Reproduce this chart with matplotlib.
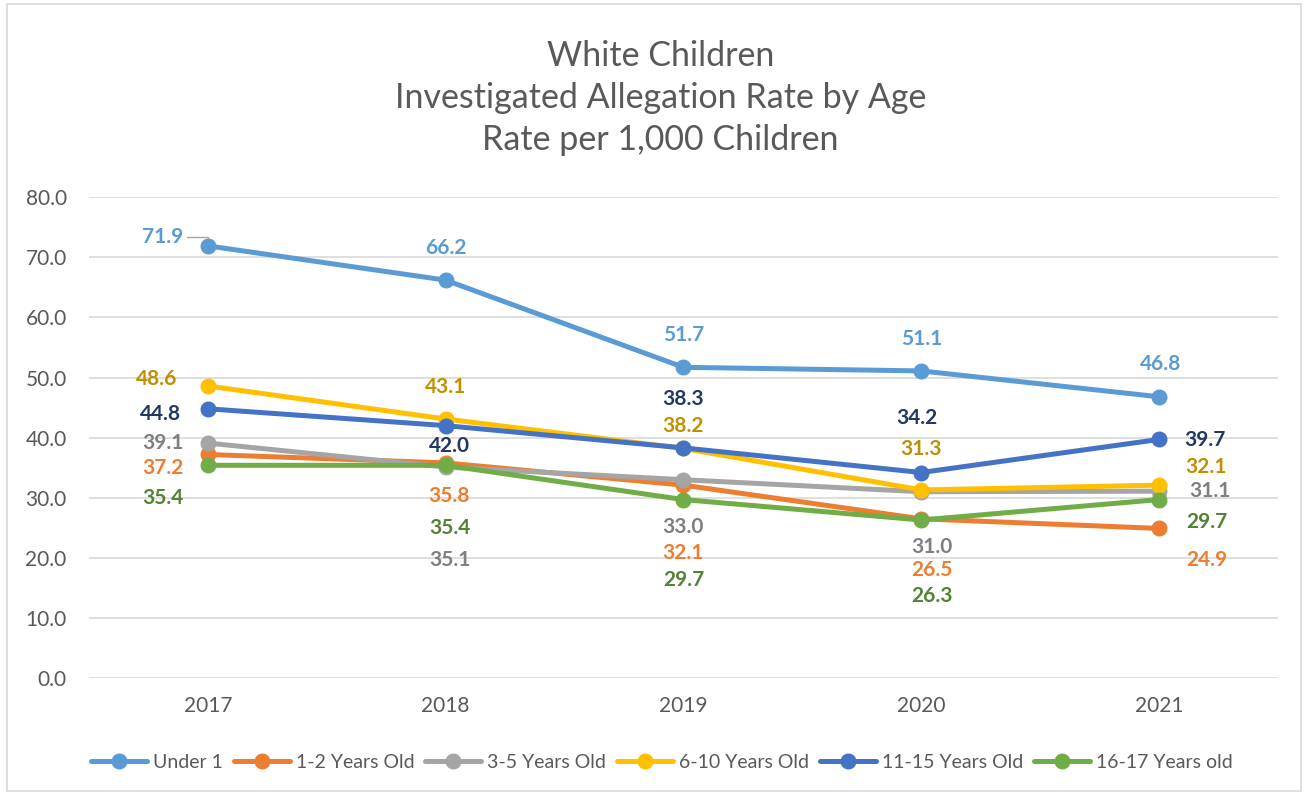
import matplotlib
matplotlib.use("Agg")
import matplotlib.pyplot as plt
from matplotlib.patches import Rectangle

plt.rcParams['font.family'] = ['Lato', 'DejaVu Sans']

# data
years = ['2017', '2018', '2019', '2020', '2021']
series_names = ['Under 1', '1-2 Years Old', '3-5 Years Old', '6-10 Years Old',
                '11-15 Years Old', '16-17 Years old']
under_1 = [71.9, 66.2, 51.7, 51.1, 46.8]
age_1_2 = [37.2, 35.8, 32.1, 26.5, 24.9]
age_3_5 = [39.1, 35.1, 33.0, 31.0, 31.1]
age_6_10 = [48.6, 43.1, 38.2, 31.3, 32.1]
age_11_15 = [44.8, 42.0, 38.3, 34.2, 39.7]
age_16_17 = [35.4, 35.4, 29.7, 26.3, 29.7]
all_series = [under_1, age_1_2, age_3_5, age_6_10, age_11_15, age_16_17]

# styles
line_colors = ['#5B9BD5', '#ED7D31', '#A5A5A5', '#FFC000', '#4472C4', '#70AD47']
label_colors = ['#5B9BD5', '#ED7D31', '#7F7F7F', '#BF9000', '#203864', '#548235']
# label offsets from each point, in pixels (dx, dy up)
label_offsets = [
    [(-45, 9), (0, 32), (0, 32), (0, 32), (2, 33)],
    [(-45, -14), (3, -33), (0, -68), (11, -51), (48, -32)],
    [(-45, 0), (4, -93), (0, -47), (11, -55), (51, 0)],
    [(-51, 7), (0, 32), (0, 22), (0, 41), (47, 18)],
    [(-47, -5), (4, -20), (0, 49), (-4, 55), (46, -1)],
    [(-45, -33), (4, -63), (0, -80), (11, -76), (48, -22)],
]

fig = plt.figure(figsize=(13.08, 7.95), dpi=100)
ax = fig.add_axes([0.068, 0.147, 0.909, 0.605])
fig.patches.append(Rectangle((0.005, 0.005), 0.99, 0.99, transform=fig.transFigure,
                             fill=False, edgecolor='#D9D9D9', lw=1.2))

x = list(range(len(years)))
for i, vals in enumerate(all_series):
    ax.plot(x, vals, color=line_colors[i], lw=3.6, marker='o', markersize=10.5,
            label=series_names[i], zorder=3 + i, solid_capstyle='round')
    for j, v in enumerate(vals):
        dx, dy = label_offsets[i][j]
        ax.annotate(f'{v:.1f}', (x[j], v), xytext=(dx, dy), textcoords='offset pixels',
                    ha='center', va='center', fontsize=15, fontweight='bold',
                    color=label_colors[i], zorder=20)

# leader line for the first label
ax.annotate('', (x[0], under_1[0]), xytext=(-21, 9), textcoords='offset pixels',
            arrowprops=dict(arrowstyle='-', color='#A6A6A6', lw=1,
                            connectionstyle='angle,angleA=0,angleB=90,rad=0',
                            shrinkA=0, shrinkB=6))

ax.set_xlim(-0.5, len(years) - 0.5)
ax.set_ylim(0, 80)
ax.set_yticks(range(0, 81, 10))
ax.set_yticklabels([f'{t:.1f}' for t in range(0, 81, 10)])
ax.set_xticks(x)
ax.set_xticklabels(years)
ax.tick_params(axis='both', length=0, labelsize=15, labelcolor='#595959')
ax.tick_params(axis='y', pad=16)
ax.tick_params(axis='x', pad=13)
ax.grid(axis='y', color='#D9D9D9', lw=1.2)
ax.set_axisbelow(True)
for s in ax.spines.values():
    s.set_visible(False)

fig.text(0.505, 0.877, 'White Children\nInvestigated Allegation Rate by Age\nRate per 1,000 Children',
         ha='center', va='center', fontsize=24.5, color='#595959', linespacing=1.38)

fig.legend(loc='center', bbox_to_anchor=(0.506, 0.041), ncol=6, frameon=False,
           fontsize=14, handlelength=2.9, handletextpad=0.3, columnspacing=0.55,
           labelcolor='#595959')

fig.savefig('out.png', dpi=100, facecolor='white')
